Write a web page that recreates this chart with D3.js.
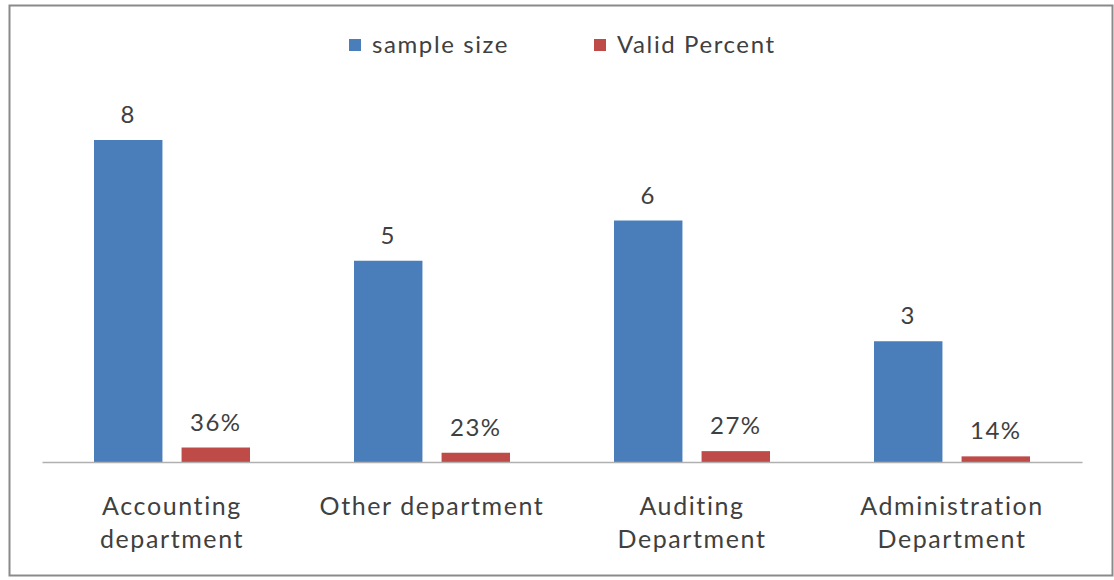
<!DOCTYPE html>
<html><head><meta charset="utf-8">
<script src="https://cdn.jsdelivr.net/npm/d3@7/dist/d3.min.js"></script>
<style>body{margin:0;background:#fff}svg{display:block}</style>
</head><body>
<script>
const categories = [["Accounting","department"],["Other department"],["Auditing","Department"],["Administration","Department"]];
const seriesNames = ["sample size","Valid Percent"];
const sampleSize = [8,5,6,3];
const validPercent = [0.36,0.23,0.27,0.14];
const validLabels = ["36%","23%","27%","14%"];
const sampleLabels = ["8","5","6","3"];
const colors = ["#4a7ebb","#be4b48"];

const W=1114,H=580;
const svg=d3.select("body").append("svg").attr("width",W).attr("height",H);
svg.append("rect").attr("x",9.5).attr("y",5.5).attr("width",1103).attr("height",570).attr("fill","#fff").attr("stroke","#8a8a8a").attr("stroke-width",2);

const font="Lato, 'Open Sans', sans-serif";
const x0=d3.scaleBand().domain(d3.range(categories.length)).range([42,1082]).padding(0);
const x1=d3.scaleBand().domain(seriesNames).range([52,x0.bandwidth()-52]).paddingInner(19/87).paddingOuter(0);
const y=d3.scaleLinear().domain([0,8]).range([462,140]);

const data = categories.map((c,i)=>({i, vals:[sampleSize[i],validPercent[i]], labs:[sampleLabels[i],validLabels[i]]}));
const g=svg.append("g");
const grp=g.selectAll("g.cat").data(data).join("g").attr("transform",d=>`translate(${x0(d.i)},0)`);
grp.selectAll("rect").data(d=>d.vals.map((v,k)=>({v,k,lab:d.labs[k]}))).join("rect")
 .attr("x",d=>x1(seriesNames[d.k])).attr("width",x1.bandwidth())
 .attr("y",d=>y(d.v)).attr("height",d=>y(0)-y(d.v)).attr("fill",d=>colors[d.k]);
grp.selectAll("text.val").data(d=>d.vals.map((v,k)=>({v,k,lab:d.labs[k]}))).join("text")
 .attr("class","val").attr("x",d=>x1(seriesNames[d.k])+x1.bandwidth()/2).attr("y",d=>y(d.v)-17)
 .attr("text-anchor","middle").attr("font-family",font).attr("font-size",24).attr("fill","#404040")
 .attr("letter-spacing",1.5).text(d=>d.lab);

// axis
const axis=d3.axisBottom(x0).tickSize(0).tickFormat("");
const ax=svg.append("g").attr("transform",`translate(0,${y(0)})`).call(axis);
ax.select(".domain").attr("stroke","#b0b0b0").attr("stroke-width",1.5);
ax.selectAll(".tick").each(function(d){
  const t=d3.select(this).append("text").attr("fill","#404040").attr("font-family",font).attr("font-size",25)
   .attr("text-anchor","middle").attr("letter-spacing",1.6);
  categories[d].forEach((ln,j)=>t.append("tspan").attr("x",0).attr("y",53+j*33).text(ln));
});

// legend
const leg=svg.append("g");
const legX=[349,594];
seriesNames.forEach((s,k)=>{
  leg.append("rect").attr("x",legX[k]).attr("y",39).attr("width",12).attr("height",12).attr("fill",colors[k]);
  leg.append("text").attr("x",legX[k]+23).attr("y",53).attr("font-family",font).attr("font-size",24)
   .attr("fill","#404040").attr("letter-spacing",1.6).text(s);
});
</script>
</body></html>
